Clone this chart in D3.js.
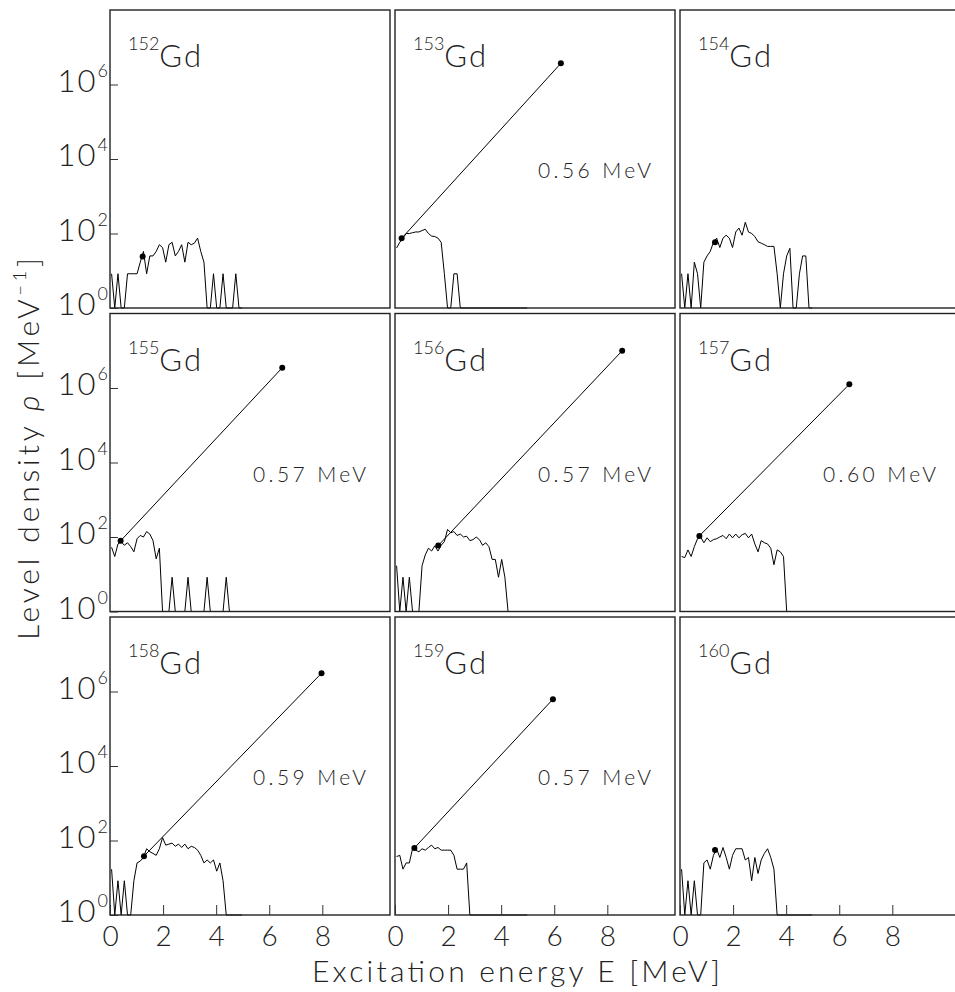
<!DOCTYPE html>
<html>
<head>
<meta charset="utf-8">
<script src="https://cdn.jsdelivr.net/npm/d3@7"></script>
<style>
  body { margin: 0; background: #fff; }
  text { font-family: Lato, "DejaVu Sans", sans-serif; font-weight: 300; fill: #222; }
</style>
</head>
<body>
<svg id="canvas" width="955" height="992"></svg>
<script>
// bin centres (MeV) shared by all histograms
let energies = [0.06, 0.18, 0.30, 0.42, 0.54, 0.66, 0.78, 0.90, 1.02, 1.14,
                1.26, 1.38, 1.50, 1.62, 1.74, 1.86, 1.98, 2.10, 2.22, 2.34,
                2.46, 2.58, 2.70, 2.82, 2.94, 3.06, 3.18, 3.30, 3.42, 3.54,
                3.66, 3.78, 3.90, 4.02, 4.14, 4.26, 4.38, 4.50, 4.62, 4.74,
                4.86, 4.98]

let isotopes = ['152', '153', '154', '155', '156', '157', '158', '159', '160']

// level density per bin [1/MeV], 0 = empty bin
let rho152 = [8.3, 0, 8.3, 0, 0, 8.3, 8.3, 8.3, 8.3, 17, 33, 8.3, 25, 25, 33, 50, 42, 17, 50, 58,
              25, 33, 50, 17, 58, 50, 55, 75, 33, 17, 0, 0, 8.3, 0, 0, 8.3, 0, 0, 0, 8.3, 0, 0]
let rho153 = [41, 58, 75, 100, 100, 105, 110, 110, 120, 130, 100, 85, 83, 75, 58, 8.3, 0, 0, 8.3, 8.3,
              0, 0, 0, 0, 0, 0, 0, 0, 0, 0, 0, 0, 0, 0, 0, 0, 0, 0, 0, 0, 0, 0]
let rho154 = [8.3, 0, 8.3, 0, 17, 8.3, 0, 17, 25, 33, 58, 75, 42, 75, 90, 75, 42, 110, 140, 90,
              200, 110, 100, 83, 60, 55, 50, 45, 45, 45, 8.3, 0, 8.3, 25, 40, 0, 0, 8.3, 25, 25, 0, 0]
let rho155 = [53, 30, 65, 75, 60, 70, 55, 40, 90, 110, 100, 140, 120, 80, 26, 50, 0, 0, 0, 8.3,
              0, 0, 0, 0, 8.3, 0, 0, 0, 0, 0, 8.3, 0, 0, 0, 0, 0, 8.3, 0, 0, 0, 0, 0]
let rho156 = [17, 0, 8.3, 0, 8.3, 0, 0, 0, 17, 33, 50, 42, 58, 42, 60, 75, 160, 130, 140, 110,
              120, 100, 105, 80, 85, 100, 85, 60, 70, 55, 25, 25, 8.3, 25, 8.3, 0, 0, 0, 0, 0, 0, 0]
let rho157 = [30, 28, 45, 30, 55, 90, 100, 70, 95, 75, 85, 90, 100, 110, 90, 120, 95, 120, 95, 115,
              125, 95, 120, 65, 40, 80, 70, 65, 50, 18, 45, 40, 30, 0, 0, 0, 0, 0, 0, 0, 0, 0]
let rho158 = [17, 0, 8.3, 0, 8.3, 0, 0, 8.3, 25, 28, 35, 60, 50, 45, 40, 60, 120, 75, 80, 85,
              70, 80, 65, 80, 60, 70, 65, 55, 40, 25, 30, 25, 30, 15, 25, 8.3, 0, 0, 0, 0, 0, 0]
let rho159 = [37, 40, 17, 25, 25, 60, 55, 50, 60, 55, 65, 75, 60, 65, 55, 55, 55, 55, 40, 17,
              17, 17, 25, 0, 0, 0, 0, 0, 0, 0, 0, 0, 0, 0, 0, 0, 0, 0, 0, 0, 0, 0]
let rho160 = [17, 0, 8.3, 0, 8.3, 0, 0, 25, 30, 17, 40, 60, 35, 65, 35, 17, 40, 60, 60, 60,
              30, 35, 8.3, 35, 13, 30, 45, 60, 35, 17, 0, 0, 0, 0, 0, 0, 0, 0, 0, 0, 0, 0]

let rhoData = [rho152, rho153, rho154, rho155, rho156, rho157, rho158, rho159, rho160]

// constant-temperature fit: lower and upper anchor points (null = no fit drawn)
let fitLowE   = [1.23, 0.25, 1.32, 0.40, 1.63, 0.73, 1.28, 0.73, 1.32]
let fitLowRho = [24, 74, 58, 79, 59, 107, 38, 63, 56]
let fitHighE   = [null, 6.25, null, 6.49, 8.56, 6.38, 7.97, 5.95, null]
let fitHighRho = [null, 3.7e6, null, 3.5e6, 1.0e7, 1.26e6, 3.1e6, 6.2e5, null]
let temperatures = [null, '0.56 MeV', null, '0.57 MeV', '0.57 MeV', '0.60 MeV', '0.59 MeV', '0.57 MeV', null]

let yTicks = [1, 1e2, 1e4, 1e6]
let yTickExp = ['0', '2', '4', '6']
let xTicks = [0, 2, 4, 6, 8]

let canvas = d3.select('#canvas')

let panelW = 280
let panelH = 298
let colLeft = [110, 395, 680]
let rowTop = [10, 313.5, 617]

let xScale = d3.scaleLinear().domain([0, 10.55]).range([0, panelW])
let yScale = d3.scaleLog().domain([1, 1e8]).range([panelH, 0])

let yOf = (v) => yScale(Math.max(v, 1)) // empty bins sit on the floor

let drawPanel = (i) => {
    let col = i % 3
    let row = Math.floor(i / 3)
    let g = canvas.append('g')
                  .attr('transform', 'translate(' + colLeft[col] + ', ' + rowTop[row] + ')')

    // histogram
    let line = d3.line()
                 .x((d, k) => xScale(energies[k]))
                 .y((d) => yOf(d))
    g.append('path')
     .datum(rhoData[i])
     .attr('d', line)
     .attr('fill', 'none')
     .attr('stroke', '#000')
     .attr('stroke-width', 1)

    // fit line + anchor points
    let dots = [[fitLowE[i], fitLowRho[i]]]
    if (fitHighE[i] !== null) {
        dots.push([fitHighE[i], fitHighRho[i]])
        g.append('line')
         .attr('x1', xScale(fitLowE[i])).attr('y1', yOf(fitLowRho[i]))
         .attr('x2', xScale(fitHighE[i])).attr('y2', yOf(fitHighRho[i]))
         .attr('stroke', '#000')
         .attr('stroke-width', 1)
    }
    g.selectAll('circle')
     .data(dots)
     .enter()
     .append('circle')
     .attr('cx', (d) => xScale(d[0]))
     .attr('cy', (d) => yOf(d[1]))
     .attr('r', 3)
     .attr('fill', '#000')

    // frame
    g.append('rect')
     .attr('width', panelW)
     .attr('height', panelH)
     .attr('fill', 'none')
     .attr('stroke', '#222')
     .attr('stroke-width', 1.4)

    // isotope label
    let lab = g.append('text').attr('x', 18).attr('y', 57)
    lab.append('tspan').text(isotopes[i]).attr('font-size', 18).attr('dy', -17)
    lab.append('tspan').text('Gd').attr('font-size', 31).attr('dy', 17).attr('letter-spacing', 2)

    if (temperatures[i] !== null) {
        g.append('text')
         .attr('x', 143)
         .attr('y', 168)
         .attr('font-size', 21)
         .attr('textLength', 113)
         .attr('lengthAdjust', 'spacing')
         .text(temperatures[i])
    }

    // y ticks on the left column
    if (col === 0) {
        let yAxis = d3.axisLeft(yScale).tickValues(yTicks).tickSize(-8).tickFormat('')
        let ya = g.append('g').call(yAxis)
        ya.select('.domain').remove()
        ya.selectAll('line').attr('stroke', '#333')

        let tl = g.selectAll('.ylab')
                  .data(yTicks)
                  .enter()
                  .append('text')
                  .attr('class', 'ylab')
                  .attr('x', -2)
                  .attr('y', (d) => yScale(d) + 7)
                  .attr('text-anchor', 'end')
        tl.append('tspan').text('10').attr('font-size', 31).attr('letter-spacing', 2)
        tl.append('tspan').text((d, k) => yTickExp[k]).attr('font-size', 18).attr('dy', -15)
    }

    // x ticks on the bottom row
    if (row === 2) {
        let xAxis = d3.axisBottom(xScale).tickValues(xTicks).tickSize(-10).tickPadding(11)
        let xa = g.append('g').attr('transform', 'translate(0, ' + panelH + ')').call(xAxis)
        xa.select('.domain').remove()
        xa.selectAll('line').attr('stroke', '#333')
        xa.selectAll('text')
          .attr('font-size', 28)
          .attr('font-family', 'Lato, "DejaVu Sans", sans-serif')
          .attr('fill', '#222')
    }
}

isotopes.forEach((iso, i) => drawPanel(i))

// axis titles
canvas.append('text')
      .attr('x', 312)
      .attr('y', 982)
      .attr('font-size', 30)
      .attr('textLength', 408)
      .attr('lengthAdjust', 'spacing')
      .text('Excitation energy E [MeV]')

let yt = canvas.append('text')
               .attr('transform', 'translate(39, 640) rotate(-90)')
               .attr('font-size', 30)
               .attr('textLength', 382)
               .attr('lengthAdjust', 'spacing')
yt.append('tspan').text('Level density ')
yt.append('tspan').text('ρ').attr('font-style', 'italic')
yt.append('tspan').text(' [MeV')
yt.append('tspan').text('−1').attr('font-size', 18).attr('dy', -13)
yt.append('tspan').text(']').attr('dy', 13)
</script>
</body>
</html>
